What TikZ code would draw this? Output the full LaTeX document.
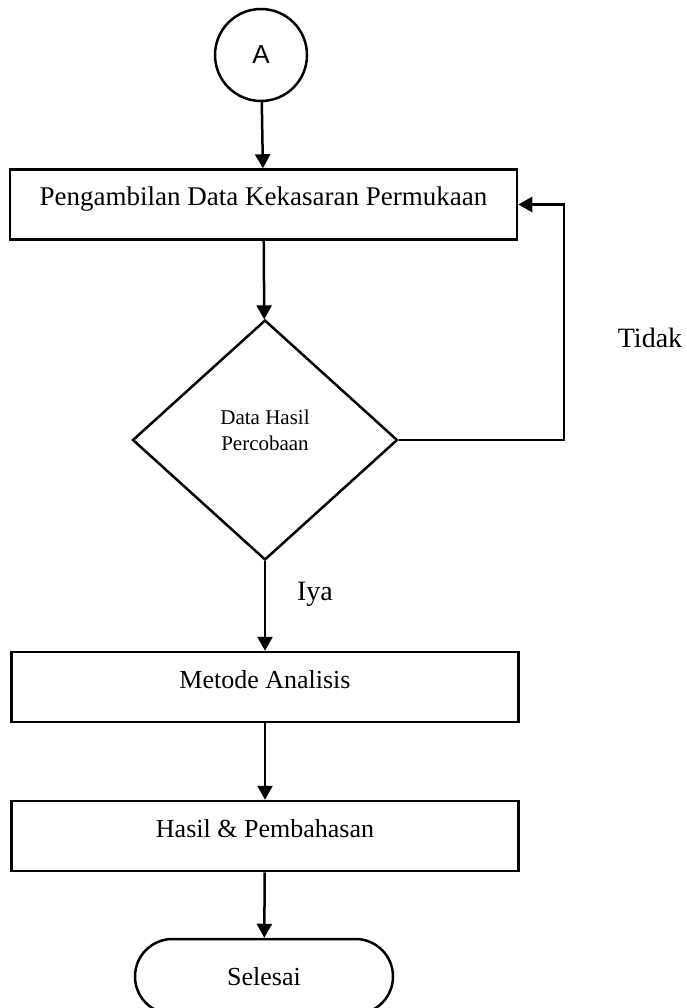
\documentclass[tikz,border=0pt]{standalone}
\usepackage{fontspec}
\setmainfont{Liberation Serif}
\newfontfamily\arialfont{Liberation Sans}
\usetikzlibrary{arrows.meta,shapes.geometric,shapes.misc}

\begin{document}
\begin{tikzpicture}[x=1pt,y=-1pt,
	line width=2.5pt,
	proses/.style={draw,rectangle,minimum width=507pt,minimum height=70pt,inner sep=0,text height=19pt,text depth=17pt,font=\fontsize{26}{30}\selectfont},
	keputusan/.style={draw,diamond,aspect=1.1,minimum width=265pt,minimum height=240pt,inner sep=0,align=center,text depth=19pt,font=\fontsize{21}{26}\selectfont},
	panah/.style={-{Triangle[length=14pt,width=15pt]}},
	ket/.style={font=\fontsize{28}{32}\selectfont}]
	\useasboundingbox (0,0) rectangle (686,1008);
	\node[draw,circle,minimum size=92pt,inner sep=0,font=\arialfont\fontsize{26}{30}\selectfont] (a) at (261,55) {A};
	\node[proses,font=\fontsize{27}{30}\selectfont] (ambil) at (263.5,204.5) {Pengambilan Data Kekasaran Permukaan};
	\node[keputusan] (cek) at (265,440) {Data Hasil\\Percobaan};
	\node[proses] (metode) at (265,687) {Metode Analisis};
	\node[proses] (hasil) at (265,836) {Hasil \& Pembahasan};
	\node[draw,rounded rectangle,minimum width=258pt,minimum height=75pt,inner sep=0,font=\fontsize{26}{30}\selectfont] (selesai) at (264,976.5) {Selesai};
	\coordinate (balik) at (564,440);
	\node[ket] (tidak) at (650,338) {Tidak};
	\node[ket] (iya) at (315,594) {Iya};
	\draw[panah] (a) -- (ambil);
	\draw[panah] (ambil) -- (cek);
	\draw[panah] (cek.east) -- (balik) |- (ambil.east);
	\draw[panah] (cek) -- (metode);
	\draw[panah] (metode) -- (hasil);
	\draw[panah] (hasil) -- (selesai);
\end{tikzpicture}
\end{document}
